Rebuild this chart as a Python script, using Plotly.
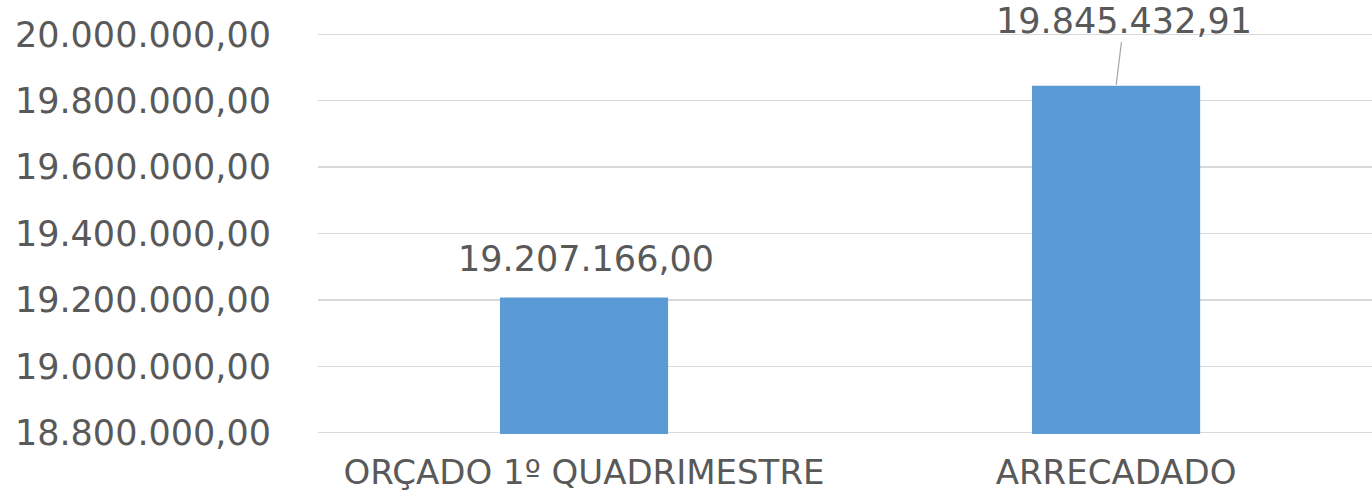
import plotly.graph_objects as go

categories = ["ORÇADO 1º QUADRIMESTRE", "ARRECADADO"]
values = [19207166.00, 19845432.91]
value_labels = ["19.207.166,00", "19.845.432,91"]
tick_values = [18800000, 19000000, 19200000, 19400000, 19600000, 19800000, 20000000]

font_family = "DejaVu Sans"
text_color = "#595959"

fig = go.Figure(
    go.Bar(
        x=list(range(len(categories))),
        y=values,
        width=0.316,
        marker=dict(color="#5b9bd5", line=dict(width=0)),
        hoverinfo="skip",
    )
)

# label for first bar (no leader line)
fig.add_annotation(
    x=0, y=values[0], text=value_labels[0], showarrow=False,
    yanchor="middle", yshift=39, xshift=2,
    font=dict(family=font_family, size=35, color=text_color),
)
# label for second bar with leader line
fig.add_annotation(
    x=1, y=values[1], text=value_labels[1], showarrow=True,
    arrowhead=0, arrowwidth=1.2, arrowcolor="#a6a6a6",
    ax=8, ay=-65, standoff=1,
    font=dict(family=font_family, size=35, color=text_color),
)

fig.update_layout(
    width=1372, height=493,
    margin=dict(l=318, r=0, t=33, b=59, autoexpand=False),
    paper_bgcolor="white", plot_bgcolor="white",
    separators=",.",
    showlegend=False,
    font=dict(family=font_family, color=text_color, size=34),
    xaxis=dict(
        range=[-0.5, 1.481],
        tickvals=list(range(len(categories))),
        ticktext=categories,
        showgrid=False, zeroline=False, showline=False,
        ticks="", ticklabelstandoff=15, automargin=False,
        tickfont=dict(family=font_family, size=34, color=text_color),
    ),
    yaxis=dict(
        range=[18796000, 20004000],
        tickvals=tick_values,
        tickformat=",.2f",
        showgrid=True, gridcolor="#d9d9d9", gridwidth=1.5,
        zeroline=False, showline=False, ticks="",
        ticklabelstandoff=46, automargin=False,
        tickfont=dict(family=font_family, size=35, color=text_color),
    ),
)

fig.write_html(
    "out.html",
    config={"displayModeBar": False, "staticPlot": True},
    post_script="document.body.style.margin='0';document.body.style.overflow='hidden';",
)
